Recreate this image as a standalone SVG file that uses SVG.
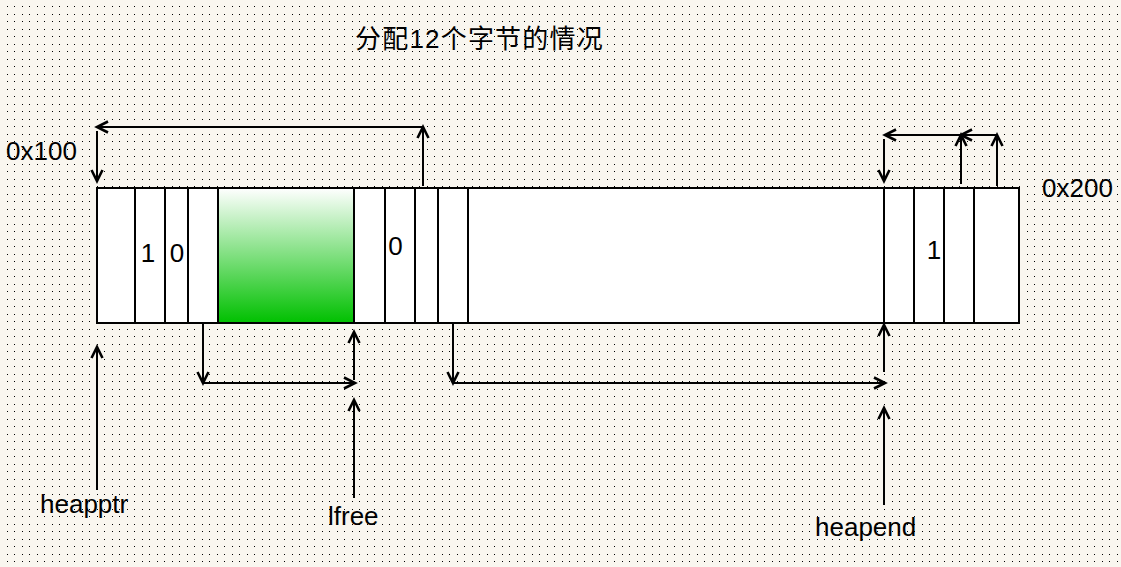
<svg xmlns="http://www.w3.org/2000/svg" width="1121" height="567" viewBox="0 0 1121 567">
<style>
.t{font-family:"Liberation Sans",Arial,sans-serif;font-size:26px;fill:#000}
.cjk{font-family:"Liberation Sans","Noto Sans CJK SC",sans-serif;font-size:26px;fill:#000;letter-spacing:1.2px}
.cell{fill:#fff;stroke:#000;stroke-width:2}
.ln{fill:none;stroke:#000;stroke-width:2}
.ar{fill:none;stroke:#000;stroke-width:2;marker-end:url(#ah)}
</style>
<defs>
<pattern id="dots" x="0" y="0" width="15" height="15" patternUnits="userSpaceOnUse">
<rect x="7" y="6" width="1" height="1" fill="#000"/>
<rect x="14" y="6" width="1" height="1" fill="#000"/>
<rect x="7" y="14" width="1" height="1" fill="#000"/>
<rect x="14" y="14" width="1" height="1" fill="#000"/>
</pattern>
<linearGradient id="green" x1="0" y1="0" x2="0" y2="1">
<stop offset="0" stop-color="#ffffff"/>
<stop offset="1" stop-color="#00c000"/>
</linearGradient>
<marker id="ah" markerUnits="userSpaceOnUse" markerWidth="16" markerHeight="14" refX="13" refY="7" orient="auto" viewBox="0 0 16 14">
<path d="M2 1.5 L13 7 L2 12.5" fill="none" stroke="#000" stroke-width="2.6"/>
</marker>
</defs>
<rect width="1121" height="567" fill="#f9f6ef"/>
<rect width="1121" height="567" fill="url(#dots)" shape-rendering="crispEdges"/>

<g id="title"><text class="cjk" x="355" y="47.5">分配12个字节的情况</text></g>

<g id="heap">
<rect class="cell" x="97" y="188" width="922" height="135"/>
<rect x="218" y="188" width="136" height="135" fill="url(#green)" stroke="#000" stroke-width="2"/>
<g class="ln">
<line x1="135" y1="188" x2="135" y2="323"/>
<line x1="165" y1="188" x2="165" y2="323"/>
<line x1="188" y1="188" x2="188" y2="323"/>
<line x1="385" y1="188" x2="385" y2="323"/>
<line x1="415" y1="188" x2="415" y2="323"/>
<line x1="438" y1="188" x2="438" y2="323"/>
<line x1="468" y1="188" x2="468" y2="323"/>
<line x1="884" y1="188" x2="884" y2="323"/>
<line x1="914" y1="188" x2="914" y2="323"/>
<line x1="944" y1="188" x2="944" y2="323"/>
<line x1="974" y1="188" x2="974" y2="323"/>
</g>
</g>

<g id="cell-values">
<text class="t" x="148" y="262" text-anchor="middle">1</text>
<text class="t" x="177" y="262" text-anchor="middle">0</text>
<text class="t" x="395.5" y="255" text-anchor="middle">0</text>
<text class="t" x="934" y="259" text-anchor="middle">1</text>
</g>

<g id="label-0x100"><text class="t" x="6" y="160">0x100</text></g>
<g id="label-0x200"><text class="t" x="1042" y="197">0x200</text></g>
<g id="label-heapptr"><text class="t" x="40" y="513">heapptr</text></g>
<g id="label-lfree"><text class="t" x="328" y="525">lfree</text></g>
<g id="label-heapend"><text class="t" x="815" y="536">heapend</text></g>

<g id="connectors">
<line class="ar" x1="97" y1="490" x2="97" y2="347"/>
<line class="ar" x1="423" y1="186" x2="423" y2="127"/>
<line class="ar" x1="423" y1="127" x2="97" y2="127"/>
<line class="ar" x1="97" y1="131" x2="97" y2="181"/>
<line class="ar" x1="997" y1="186" x2="997" y2="135"/>
<line class="ar" x1="997" y1="135" x2="961" y2="135"/>
<line class="ar" x1="961" y1="184" x2="961" y2="135"/>
<line class="ar" x1="961" y1="135" x2="885" y2="135"/>
<line class="ar" x1="884" y1="139" x2="884" y2="181"/>
<line class="ar" x1="203" y1="324" x2="203" y2="383"/>
<line class="ar" x1="203" y1="383" x2="355" y2="383"/>
<line class="ar" x1="354" y1="380" x2="354" y2="332"/>
<line class="ar" x1="354" y1="498" x2="354" y2="400"/>
<line class="ar" x1="453" y1="324" x2="453" y2="383"/>
<line class="ar" x1="453" y1="383" x2="885" y2="383"/>
<line class="ar" x1="884" y1="372" x2="884" y2="325"/>
<line class="ar" x1="884" y1="505" x2="884" y2="408"/>
</g>
</svg>
